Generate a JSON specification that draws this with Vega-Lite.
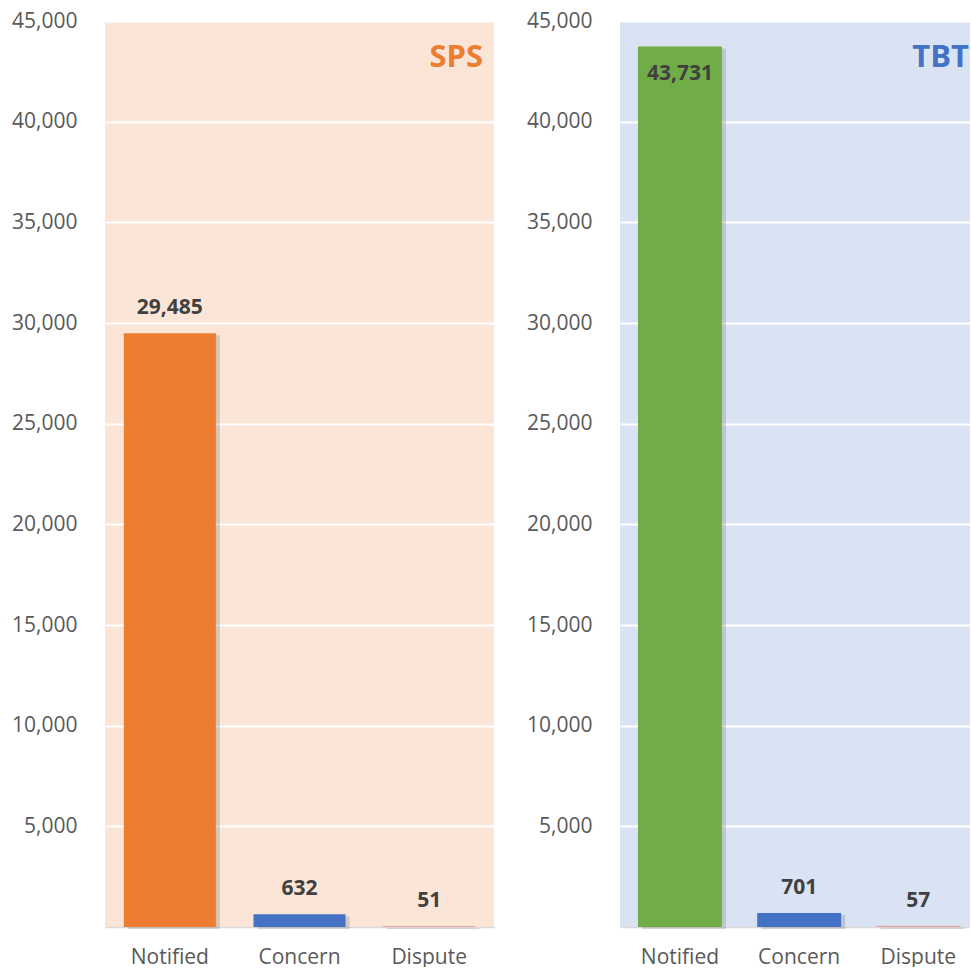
{
  "$schema": "https://vega.github.io/schema/vega-lite/v6.json",
  "padding": {"left": 11, "top": 10, "right": 0, "bottom": 0},
  "spacing": 32,
  "background": "white",
  "datasets": {
    "counts": [
      {"panel": "SPS", "category": "Notified", "value": 29485},
      {"panel": "SPS", "category": "Concern", "value": 632},
      {"panel": "SPS", "category": "Dispute", "value": 51},
      {"panel": "TBT", "category": "Notified", "value": 43731},
      {"panel": "TBT", "category": "Concern", "value": 701},
      {"panel": "TBT", "category": "Dispute", "value": 57}
    ]
  },
  "config": {
    "font": "Open Sans",
    "axis": {
      "labelFont": "Open Sans",
      "labelFontSize": 21,
      "labelColor": "#595959",
      "ticks": false,
      "title": null
    },
    "axisY": {
      "domain": false,
      "gridColor": "white",
      "gridWidth": 2,
      "labelPadding": 28
    },
    "axisX": {
      "grid": false,
      "domain": true,
      "domainColor": "#D9D9D9",
      "domainWidth": 1.5,
      "labelAngle": 0,
      "labelPadding": 19
    },
    "view": {"stroke": null},
    "title": {
      "font": "Open Sans",
      "fontSize": 31,
      "fontWeight": "bold",
      "anchor": "end",
      "frame": "group",
      "baseline": "alphabetic",
      "offset": -64
    }
  },
  "hconcat": [
    {
      "width": 389,
      "height": 906,
      "view": {"fill": "#FBE5D6", "stroke": null},
      "title": {"text": "SPS", "color": "#ED7D31", "dx": -11},
      "data": {"name": "counts"},
      "transform": [{"filter": "datum.panel === 'SPS'"}],
      "encoding": {
        "x": {
          "field": "category",
          "type": "nominal",
          "sort": ["Notified", "Concern", "Dispute"],
          "scale": {"paddingInner": 0.29, "paddingOuter": 0.145}
        },
        "y": {
          "field": "value",
          "type": "quantitative",
          "scale": {"domain": [0, 45000], "nice": false},
          "axis": {"values": [5000, 10000, 15000, 20000, 25000, 30000, 35000, 40000, 45000], "format": ",d"}
        }
      },
      "layer": [
        {
          "mark": {"type": "bar", "color": "#7F7F7F", "opacity": 0.3, "xOffset": 4, "yOffset": 2}
        },
        {
          "mark": {"type": "bar"},
          "encoding": {
            "color": {
              "field": "category",
              "type": "nominal",
              "scale": {"domain": ["Notified", "Concern", "Dispute"], "range": ["#ED7D31", "#4472C4", "#E8A3A3"]},
              "legend": null
            }
          }
        },
        {
          "mark": {"type": "text", "dy": -25, "fontSize": 21, "fontWeight": "bold", "color": "#404040", "font": "Open Sans"},
          "encoding": {"text": {"field": "value", "type": "quantitative", "format": ",d"}}
        }
      ]
    },
    {
      "width": 350,
      "height": 906,
      "view": {"fill": "#DAE3F3", "stroke": null},
      "title": {"text": "TBT", "color": "#4472C4", "dx": -1},
      "data": {"name": "counts"},
      "transform": [{"filter": "datum.panel === 'TBT'"}],
      "encoding": {
        "x": {
          "field": "category",
          "type": "nominal",
          "sort": ["Notified", "Concern", "Dispute"],
          "scale": {"paddingInner": 0.296, "paddingOuter": 0.116, "align": 0.65}
        },
        "y": {
          "field": "value",
          "type": "quantitative",
          "scale": {"domain": [0, 45000], "nice": false},
          "axis": {"values": [5000, 10000, 15000, 20000, 25000, 30000, 35000, 40000, 45000], "format": ",d"}
        }
      },
      "layer": [
        {
          "mark": {"type": "bar", "color": "#7F7F7F", "opacity": 0.3, "xOffset": 4, "yOffset": 2}
        },
        {
          "mark": {"type": "bar"},
          "encoding": {
            "color": {
              "field": "category",
              "type": "nominal",
              "scale": {"domain": ["Notified", "Concern", "Dispute"], "range": ["#70AD47", "#4472C4", "#E8A3A3"]},
              "legend": null
            }
          }
        },
        {
          "transform": [{"filter": "datum.value < 42000"}],
          "mark": {"type": "text", "dy": -25, "fontSize": 21, "fontWeight": "bold", "color": "#404040", "font": "Open Sans"},
          "encoding": {"text": {"field": "value", "type": "quantitative", "format": ",d"}}
        },
        {
          "transform": [{"filter": "datum.value >= 42000"}],
          "mark": {"type": "text", "dy": 27, "fontSize": 21, "fontWeight": "bold", "color": "#404040", "font": "Open Sans"},
          "encoding": {"text": {"field": "value", "type": "quantitative", "format": ",d"}}
        }
      ]
    }
  ],
  "resolve": {"scale": {"color": "independent", "x": "independent"}}
}
